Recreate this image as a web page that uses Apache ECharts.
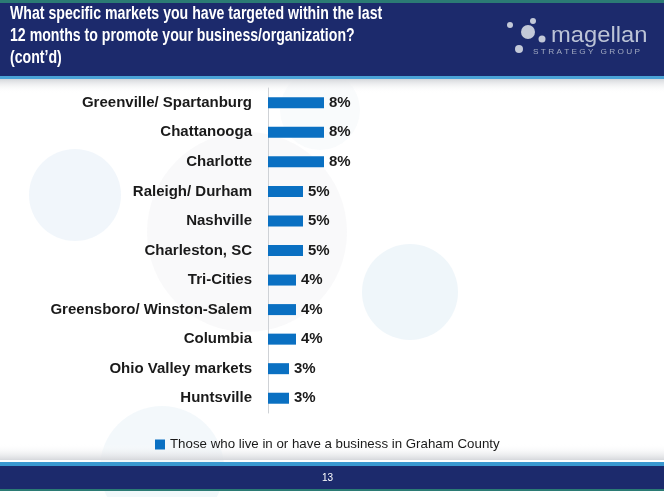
<!DOCTYPE html>
<html><head><meta charset="utf-8">
<script src="https://cdn.jsdelivr.net/npm/echarts@6/dist/echarts.min.js"></script>
<style>html,body{margin:0;padding:0;background:#fff}#c{width:664px;height:497px}</style>
</head><body><div id="c"></div>
<script>
const categories = ["Greenville/ Spartanburg","Chattanooga","Charlotte","Raleigh/ Durham","Nashville","Charleston, SC","Tri-Cities","Greensboro/ Winston-Salem","Columbia","Ohio Valley markets","Huntsville"];
const values = [8,8,8,5,5,5,4,4,4,3,3];
const seriesName = "Those who live in or have a business in Graham County";
const titleLines = ["What specific markets you have targeted within the last","12 months to promote your business/organization?","(cont\u2019d)"];
const pageNumber = "13";

const SANS = "'Liberation Sans',Arial,Helvetica,sans-serif";
const chart = echarts.init(document.getElementById('c'), null, {renderer:'canvas'});

const titleGraphics = titleLines.map((t, i) => ({
  type:'text', x:10, y:5 + i*22, scaleX:0.785, scaleY:1,
  style:{text:t, x:0, y:0, fill:'#ffffff', font:"bold 18px " + SANS, textVerticalAlign:'top'}
}));

chart.setOption({
  backgroundColor: '#ffffff',
  animation: false,
  graphic: [
    // faint background circles
    {type:'circle', shape:{cx:75, cy:195, r:46}, style:{fill:'rgba(190,215,235,0.22)'}, z:-10},
    {type:'circle', shape:{cx:247, cy:232, r:100}, style:{fill:'rgba(200,200,205,0.10)'}, z:-10},
    {type:'circle', shape:{cx:410, cy:292, r:48}, style:{fill:'rgba(190,220,235,0.25)'}, z:-10},
    {type:'circle', shape:{cx:162, cy:468, r:62}, style:{fill:'rgba(200,225,235,0.22)'}, z:-10},
    {type:'circle', shape:{cx:320, cy:110, r:40}, style:{fill:'rgba(205,220,230,0.12)'}, z:-10},
    // header
    {type:'rect', shape:{x:0, y:79, width:664, height:14}, style:{fill:{type:'linear',x:0,y:0,x2:0,y2:1,colorStops:[{offset:0,color:'#d4d6da'},{offset:1,color:'rgba(255,255,255,0)'}]}}, z:-5},
    {type:'rect', shape:{x:0, y:0, width:664, height:3}, style:{fill:'#2b7b74'}, z:-5},
    {type:'rect', shape:{x:0, y:3, width:664, height:73}, style:{fill:'#1c2a6c'}, z:-5},
    {type:'rect', shape:{x:0, y:76, width:664, height:3}, style:{fill:'#4aa3d6'}, z:-5},
    ...titleGraphics,
    // logo
    {type:'circle', shape:{cx:528, cy:32, r:7}, style:{fill:'#c3c9d8'}},
    {type:'circle', shape:{cx:510, cy:25, r:3}, style:{fill:'#c3c9d8'}},
    {type:'circle', shape:{cx:533, cy:21, r:3}, style:{fill:'#c3c9d8'}},
    {type:'circle', shape:{cx:542, cy:39, r:3.5}, style:{fill:'#c3c9d8'}},
    {type:'circle', shape:{cx:519, cy:49, r:4}, style:{fill:'#c3c9d8'}},
    {type:'text', x:551, y:25, style:{text:'magellan', x:0, y:0, fill:'#bcc4d6', font:"22px " + SANS, textVerticalAlign:'top'}, scaleX:1.08},
    {type:'text', x:533, y:49, style:{text:'S T R A T E G Y   G R O U P', x:0, y:0, fill:'#a3abc2', font:"7px " + SANS, textVerticalAlign:'top'}, scaleX:1.18},
    // footer
    {type:'rect', shape:{x:0, y:444, width:664, height:16}, style:{fill:{type:'linear',x:0,y:0,x2:0,y2:1,colorStops:[{offset:0,color:'rgba(255,255,255,0)'},{offset:1,color:'#d6d8dc'}]}}, z:-5},
    {type:'rect', shape:{x:0, y:462, width:664, height:4}, style:{fill:'#3a98d0'}, z:-5},
    {type:'rect', shape:{x:0, y:466, width:664, height:23}, style:{fill:'#1c2a6c'}, z:-5},
    {type:'rect', shape:{x:0, y:489, width:664, height:2}, style:{fill:'#2b7b74'}, z:-5},
    {type:'text', x:322, y:473, style:{text:pageNumber, x:0, y:0, fill:'#ffffff', font:"10px " + SANS, textVerticalAlign:'top'}}
  ],
  legend: {
    left: 150, top: 433,
    icon: 'rect', itemWidth: 10, itemHeight: 10, itemGap: 5,
    textStyle: {color:'#1a1a1a', fontSize:13.3, fontFamily:SANS},
    data: [seriesName]
  },
  grid: {left:268, top:88, width:70, height:325, containLabel:false},
  xAxis: {type:'value', min:0, max:10, show:false},
  yAxis: {
    type:'category', data:categories, inverse:true,
    axisLine:{show:true, lineStyle:{color:'#cfd2d6', width:1}},
    axisTick:{show:false},
    axisLabel:{color:'#1a1a1a', fontSize:15, fontWeight:'bold', fontFamily:SANS, margin:16}
  },
  series: [{
    name: seriesName, type:'bar', data: values, barWidth: 11,
    itemStyle:{color:'#0a70c2'},
    label:{show:true, position:'right', distance:5, formatter:'{c}%', color:'#1a1a1a', fontSize:15, fontWeight:'bold', fontFamily:SANS}
  }]
});
</script></body></html>
